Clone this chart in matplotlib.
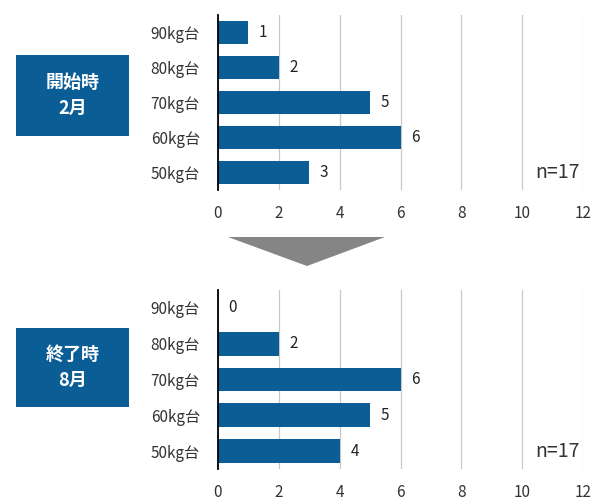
import matplotlib
matplotlib.use("Agg")
import matplotlib.pyplot as plt
from matplotlib.patches import Polygon, Rectangle

plt.rcParams['font.family'] = ['Noto Sans CJK JP', 'DejaVu Sans']

categories = ["50kg台", "60kg台", "70kg台", "80kg台", "90kg台"]
start_values = [3, 6, 5, 2, 1]
end_values = [4, 5, 6, 2, 0]
panel_titles = ["開始時\n2月", "終了時\n8月"]
n_label = "n=17"
xticks = [0, 2, 4, 6, 8, 10, 12]

BAR = "#0B5E95"
W, H = 594, 504
fig = plt.figure(figsize=(W / 100, H / 100), dpi=100)


def panel(rect, values):
    ax = fig.add_axes(rect)
    y = list(range(len(categories)))
    ax.barh(y, values, height=0.66, color=BAR, zorder=3)
    ax.set_xlim(0, 12)
    ax.set_ylim(-0.5, len(categories) - 0.5)
    ax.set_yticks(y)
    ax.set_yticklabels(categories, fontsize=11, color="#333333")
    ax.set_xticks(xticks)
    ax.set_xticklabels([str(t) for t in xticks], fontsize=11, color="#333333")
    ax.tick_params(axis="both", length=0)
    ax.tick_params(axis="x", pad=11)
    ax.tick_params(axis="y", pad=13)
    for s in ["top", "right", "bottom"]:
        ax.spines[s].set_visible(False)
    ax.spines["left"].set_color("black")
    ax.spines["left"].set_linewidth(1.3)
    ax.spines["left"].set_zorder(4)
    ax.grid(axis="x", color="#c8c8c8", linewidth=0.9, zorder=0)
    ax.grid(axis="y", visible=False)
    for yi, v in zip(y, values):
        ax.text(v + 0.35, yi, str(v), va="center", ha="left",
                fontsize=11, color="#222222")
    ax.text(11.88, 0, n_label, ha="right", va="center", fontsize=14,
            color="#333333")
    return ax


panel([218 / W, 1 - 190 / H, 365 / W, 175 / H], start_values)
panel([218 / W, 1 - 469 / H, 365 / W, 179 / H], end_values)

# label boxes
for (top, bottom), title in zip([(55, 136), (328, 407)], panel_titles):
    fig.patches.append(Rectangle((16 / W, 1 - bottom / H), 113 / W,
                                 (bottom - top) / H, transform=fig.transFigure,
                                 facecolor=BAR, edgecolor="none"))
    fig.text((16 + 129) / 2 / W, 1 - (top + bottom) / 2 / H, title,
             ha="center", va="center", color="white", fontsize=13,
             fontweight="bold", linespacing=1.45)

# arrow triangle
fig.patches.append(Polygon([(228 / W, 1 - 237 / H), (385 / W, 1 - 237 / H),
                            (307 / W, 1 - 266 / H)], closed=True,
                           transform=fig.transFigure, facecolor="#858585",
                           edgecolor="none"))

fig.savefig("out.png", dpi=100)
